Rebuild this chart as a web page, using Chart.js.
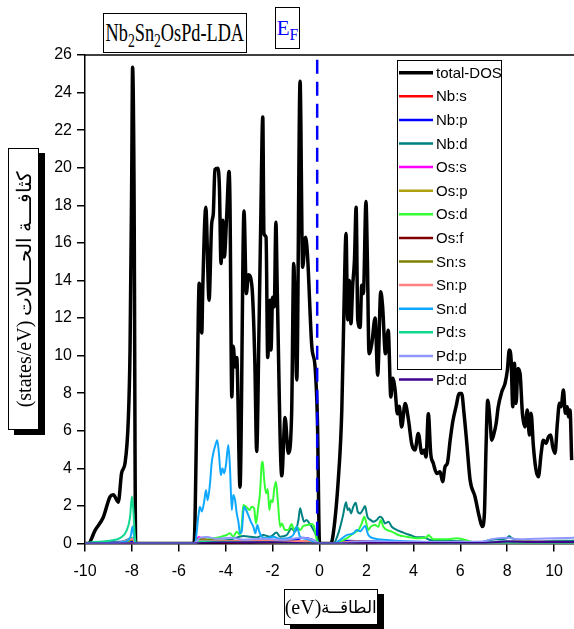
<!DOCTYPE html>
<html>
<head>
<meta charset="utf-8">
<script src="https://cdn.jsdelivr.net/npm/chart.js@4.4.0/dist/chart.umd.min.js"></script>
<style>
  body { margin: 0; background: #fff; }
  #wrap { position: relative; width: 574px; height: 629px; overflow: hidden; }
  #dos { position: absolute; left: 0; top: 0; }
  .box {
    position: absolute; box-sizing: border-box; border: 1px solid #000; background: #fff;
    font-family: "Liberation Serif", "Times New Roman", serif; color: #000;
    white-space: nowrap; display: flex; align-items: center; justify-content: center;
  }
  .box sub { font-size: 75%; vertical-align: -0.3em; line-height: 0; }
  #title { left: 103px; top: 13px; width: 144px; height: 40px; font-size: 25px; }
  #title span { display: inline-block; transform: scaleX(0.73); }
  #ef { left: 275px; top: 7px; width: 25px; height: 42px; font-size: 21px; color: #0000ff; }
  #xtitle { left: 284px; top: 589px; width: 94px; height: 36px; font-size: 20px; box-shadow: 6px 5px 0 #000; }
  #xtitle .ar { font-size: 17px; }
  #ytitle {
    left: 8px; top: 148px; width: 282px; height: 31px; font-size: 20px;
    transform-origin: 0 0; transform: translate(0, 282px) rotate(-90deg);
    box-shadow: -5px 6px 0 #000;
  }
</style>
</head>
<body>
<div id="wrap">
  <canvas id="dos" width="574" height="629"></canvas>
  <div class="box" id="title"><span>Nb<sub>2</sub>Sn<sub>2</sub>OsPd-LDA</span></div>
  <div class="box" id="ef"><span>E<sub>F</sub></span></div>
  <div class="box" id="xtitle" dir="ltr"><span>(eV)</span><span class="ar" dir="rtl">الطاقــة</span></div>
  <div class="box" id="ytitle" dir="ltr">(states/eV) كثافـــة الحـــالات</div>
</div>
<script>
// energy ticks (eV) and DOS ticks (states/eV)
const xTicks = [-10, -8, -6, -4, -2, 0, 2, 4, 6, 8, 10];
const yTicks = [0, 2, 4, 6, 8, 10, 12, 14, 16, 18, 20, 22, 24, 26];
const fermiLevel = -0.1;

// [energy, DOS] pairs
const totalDos = [[-10,0],[-9.86,0],[-9.57,0.7],[-9.22,1.4],[-8.93,2.5],[-8.79,2.6],[-8.58,2.2],[-8.44,3.75],[-8.29,4.3],[-8.15,6.7],[-8.08,10.3],[-8.01,19.2],[-7.97,25.35],[-7.91,19.2],[-7.84,0],
  [-5.35,0],[-5.22,8],[-5.13,13.85],[-5.02,11.2],[-4.98,13.5],[-4.85,17.9],[-4.71,12.95],[-4.6,17.0],[-4.53,17.55],[-4.46,19.9],[-4.34,19.97],[-4.27,19.0],[-4.2,14.9],[-4.13,17.2],[-4.06,15.25],[-3.96,17.4],[-3.86,19.8],[-3.82,18.3],[-3.74,7.8],[-3.68,10.5],[-3.6,9.4],[-3.53,9.9],[-3.39,3.0],[-3.22,17.7],[-3.12,13.3],[-3.03,14.3],[-2.88,13.65],[-2.76,9.76],[-2.68,4.9],[-2.58,11.5],[-2.51,16.85],[-2.42,22.7],[-2.37,16.5],[-2.28,16.3],[-2.21,9.9],[-2.11,12.95],[-2.07,10.3],[-2.0,13.1],[-1.93,12.6],[-1.86,17.1],[-1.8,13.3],[-1.61,3.6],[-1.47,6.7],[-1.33,4.8],[-1.19,6.9],[-1.1,14.9],[-0.97,8.7],[-0.83,24.6],[-0.72,14.7],[-0.6,16.3],[-0.52,15.5],[-0.33,10.5],[-0.19,9.4],[-0.09,6.6],[0,0],
  [0.48,0],[0.56,0.3],[0.8,3.4],[0.95,7.1],[1.04,12.4],[1.13,16.5],[1.2,11.9],[1.27,14.0],[1.34,11.7],[1.41,13.65],[1.49,15.1],[1.56,17.9],[1.63,11.9],[1.73,11.5],[1.8,13.75],[1.87,13.3],[1.98,18.2],[2.04,15.1],[2.11,10.1],[2.23,10.65],[2.37,12.0],[2.48,8.96],[2.61,13.4],[2.69,12.6],[2.81,10.1],[2.93,11.35],[3.04,7.8],[3.12,8.8],[3.22,8.2],[3.32,6.9],[3.4,7.3],[3.5,6.2],[3.65,7.45],[3.79,6.6],[3.93,5.3],[4.07,4.97],[4.21,5.86],[4.36,4.8],[4.46,4.97],[4.54,4.6],[4.64,6.9],[4.74,4.8],[4.85,4.27],[5.0,3.73],[5.14,3.82],[5.25,3.29],[5.35,4.08],[5.45,4.27],[5.57,5.5],[5.68,6.48],[5.82,7.28],[5.96,7.99],[6.06,7.99],[6.16,6.93],[6.28,5.33],[6.42,3.38],[6.63,2.49],[6.81,1.43],[6.94,0.9],[7.03,1.6],[7.1,5.15],[7.17,7.63],[7.27,6.57],[7.34,5.5],[7.44,5.86],[7.53,6.39],[7.62,7.28],[7.77,8.07],[7.91,8.52],[8.01,9.23],[8.09,10.3],[8.17,9.76],[8.24,7.28],[8.31,9.59],[8.38,7.46],[8.46,9.32],[8.55,9.05],[8.65,6.93],[8.76,6.21],[8.86,7.1],[8.95,5.77],[9.02,6.93],[9.12,5.15],[9.23,3.91],[9.33,3.55],[9.45,4.8],[9.54,5.5],[9.66,5.33],[9.76,5.68],[9.86,5.77],[9.94,5.15],[10.04,4.8],[10.14,6.39],[10.23,7.46],[10.3,7.28],[10.4,8.17],[10.48,6.93],[10.57,7.28],[10.61,6.74],[10.68,7.1],[10.75,4.44]];

const nbS = [[-10,0],[-8.2,0.03],[-7.95,0.15],[-7.85,0],[-5.35,0],[-5.1,0.1],[-4.5,0.08],[-3.5,0.05],[-2.5,0.1],[-1.5,0.06],[-0.5,0.08],[0,0],[0.6,0],[1.5,0.06],[3,0.03],[7,0.02],[10.85,0.02]];
const nbP = [[-10,0],[-7.95,0.1],[-7.85,0],[-5.35,0],[-5.0,0.15],[-4.0,0.12],[-3.0,0.1],[-2.0,0.12],[-1.0,0.2],[-0.7,0.3],[-0.3,0.2],[0,0],[0.6,0],[1.2,0.15],[2,0.12],[3,0.08],[5,0.04],[7,0.05],[8,0.1],[10.85,0.08]];
const nbD = [[-10,0],[-8.5,0.05],[-7.95,0.3],[-7.85,0],[-5.35,0],[-5.24,0.05],[-3.82,0.2],[-3.25,0.4],[-2.96,0.36],[-2.68,0.32],[-2.4,0.45],[-2.11,0.36],[-1.83,0.58],[-1.68,0.36],[-1.4,0.45],[-1.19,0.8],[-1.04,0.63],[-0.9,1.25],[-0.83,1.87],[-0.75,1.52],[-0.66,1.16],[-0.55,1.25],[-0.43,1.07],[-0.29,0.8],[-0.15,0.45],[0,0],
  [0.59,0],[0.8,0.54],[0.99,1.43],[1.13,2.19],[1.2,1.78],[1.27,1.87],[1.34,1.6],[1.44,1.96],[1.54,2.17],[1.63,1.69],[1.73,1.6],[1.84,1.78],[1.94,1.99],[2.04,1.43],[2.18,1.25],[2.3,1.16],[2.44,1.25],[2.58,1.43],[2.68,1.34],[2.79,1.07],[2.94,1.16],[3.08,0.89],[3.29,0.72],[3.57,0.58],[3.86,0.45],[4.14,0.33],[4.43,0.33],[4.71,0.19],[5.42,0.15],[6.28,0.1],[6.84,0.05],[7.13,0.15],[7.55,0.22],[7.98,0.28],[8.09,0.4],[8.19,0.28],[8.55,0.19],[9.26,0.1],[9.97,0.15],[10.85,0.15]];
const osS = [[-10,0],[-7.85,0],[-5.35,0],[-5.15,0.35],[-5.0,0.25],[-4.6,0.15],[-4.0,0.1],[-3.0,0.06],[-2.0,0.05],[-1.0,0.04],[0,0],[10.85,0]];
const osP = [[-10,0],[-5.35,0],[-5.0,0.2],[-4.5,0.15],[-3.5,0.12],[-2.5,0.15],[-1.5,0.1],[-0.5,0.12],[0,0],[0.6,0],[1.5,0.1],[3,0.05],[10.85,0.02]];
const osD = [[-10,0],[-8.2,0.05],[-7.95,0.3],[-7.85,0],[-5.35,0],[-5.24,0.1],[-4.67,0.24],[-4.24,0.35],[-3.96,0.45],[-3.82,0.54],[-3.68,0.36],[-3.53,0.63],[-3.39,0.45],[-3.32,0.89],[-3.25,2.05],[-3.13,1.96],[-2.99,1.78],[-2.89,1.96],[-2.79,1.87],[-2.71,1.07],[-2.61,1.96],[-2.54,2.67],[-2.46,4.27],[-2.42,4.35],[-2.37,3.55],[-2.28,2.67],[-2.21,2.9],[-2.14,1.78],[-2.07,2.3],[-2.0,2.2],[-1.93,2.93],[-1.86,3.29],[-1.78,2.3],[-1.68,0.89],[-1.61,1.07],[-1.47,0.72],[-1.33,0.72],[-1.19,1.04],[-1.09,0.72],[-0.97,0.89],[-0.83,0.72],[-0.69,0.93],[-0.52,0.98],[-0.33,1.04],[-0.23,0.89],[-0.12,0.19],[0,0],
  [0.66,0],[1.16,0.28],[1.44,0.54],[1.66,0.72],[1.8,1.07],[1.91,1.43],[1.98,1.16],[2.08,0.72],[2.18,0.89],[2.37,0.98],[2.51,0.89],[2.61,1.25],[2.72,0.89],[2.87,0.72],[3.08,0.63],[3.36,0.45],[3.72,0.36],[4.14,0.28],[4.57,0.33],[4.64,0.45],[4.85,0.22],[5.42,0.22],[5.85,0.28],[6.13,0.22],[6.7,0.04],[7,0.05],[8,0.1],[10.85,0.05]];
const osF = [[-10,0],[-5.35,0],[-5.0,0.05],[-2,0.05],[0,0],[7,0.02],[8,0.08],[9,0.06],[10.85,0.05]];
const snS = [[-10,0],[-8.5,0.05],[-7.95,0.2],[-7.85,0],[-5.35,0],[-5.2,0.25],[-4.8,0.2],[-4.2,0.15],[-3.5,0.1],[-2.5,0.05],[0,0],[0.6,0],[1.5,0.05],[10.85,0.02]];
const snP = [[-10,0],[-8.5,0.05],[-7.95,0.25],[-7.85,0],[-5.35,0],[-5.0,0.15],[-4.0,0.12],[-3.0,0.15],[-2.3,0.2],[-1.5,0.1],[-0.5,0.15],[0,0],[0.6,0],[1.5,0.1],[3,0.06],[7,0.04],[8.5,0.1],[10.85,0.08]];
const snD = [[-10,0],[-9,0.03],[-8.3,0.1],[-8.05,0.4],[-7.97,0.9],[-7.9,0.3],[-7.84,0],[-5.31,0],[-5.17,1.43],[-5.1,1.96],[-5.02,1.7],[-4.91,2.3],[-4.84,2.85],[-4.77,2.3],[-4.67,3.2],[-4.6,4.27],[-4.53,4.8],[-4.46,5.15],[-4.36,5.5],[-4.29,4.8],[-4.21,3.64],[-4.14,4.0],[-4.07,3.73],[-3.99,4.18],[-3.89,5.24],[-3.82,4.08],[-3.74,1.78],[-3.68,2.58],[-3.6,2.3],[-3.53,1.6],[-3.46,1.16],[-3.39,0.54],[-3.32,0.63],[-3.22,1.96],[-3.13,1.78],[-3.04,1.52],[-2.93,1.16],[-2.82,0.89],[-2.74,0.54],[-2.65,0.98],[-2.57,0.63],[-2.46,0.36],[-2.25,0.28],[-1.97,0.36],[-1.68,0.24],[-1.4,0.28],[-1.12,0.45],[-0.97,0.89],[-0.83,0.36],[-0.55,0.24],[-0.12,0.04],[0,0],
  [0.59,0],[1.16,0.45],[1.44,0.54],[1.59,0.72],[1.73,0.65],[1.94,0.93],[2.08,0.45],[2.3,0.28],[2.87,0.19],[4.0,0.1],[6,0.05],[10.85,0.05]];
const pdS = [[-10,0],[-9.8,0.05],[-8.93,0.15],[-8.5,0.3],[-8.22,0.7],[-8.08,1.4],[-8.0,2.5],[-7.94,1.8],[-7.86,0.2],[-7.8,0],[-5.35,0],[-5.0,0.1],[-4,0.08],[-2,0.06],[0,0],[0.6,0],[2,0.05],[5,0.03],[10.85,0.02]];
const pdP = [[-10,0],[-7.85,0],[-5.35,0],[-5.1,0.3],[-4.8,0.35],[-4.4,0.25],[-3.8,0.3],[-3.2,0.2],[-2.5,0.25],[-1.5,0.2],[-0.8,0.3],[-0.3,0.2],[0,0],[0.6,0],[2,0.1],[5,0.08],[7.0,0.1],[7.3,0.22],[8,0.3],[8.5,0.22],[9.2,0.25],[10,0.28],[10.85,0.3]];
const pdD = [[-10,0],[-5.35,0],[-4.5,0.05],[-2,0.06],[0,0],[0.6,0],[2,0.03],[7,0.03],[8,0.1],[9,0.08],[10.85,0.08]];

const seriesNames = ['total-DOS', 'Nb:s', 'Nb:p', 'Nb:d', 'Os:s', 'Os:p', 'Os:d', 'Os:f', 'Sn:s', 'Sn:p', 'Sn:d', 'Pd:s', 'Pd:p', 'Pd:d'];
const seriesColors = ['#000000', '#ff0000', '#0000ff', '#008080', '#ff00ff', '#b0a010', '#33ff33', '#800000', '#808000', '#ff8080', '#10a8ff', '#10d890', '#9098ff', '#400090'];
const seriesData = [totalDos, nbS, nbP, nbD, osS, osP, osD, osF, snS, snP, snD, pdS, pdP, pdD];

const datasets = seriesData.map((d, i) => ({
    label: seriesNames[i],
    data: d,
    borderColor: seriesColors[i],
    borderWidth: i === 0 ? 3.5 : 2,
    cubicInterpolationMode: 'monotone',
    // later curves sit on top, so Pd:d ends up on the baseline
    order: seriesData.length - i
}));

datasets.push({
    label: 'EF',
    data: [[fermiLevel, 25.75], [fermiLevel, 0]],
    borderColor: '#0000ff',
    borderWidth: 2.5,
    borderDash: [14, 8],
    order: 0
});

// legend inside the plot + top frame line
const legendBox = {
    id: 'legendBox',
    afterDraw(chart) {
        const ctx = chart.ctx;
        const a = chart.chartArea;
        ctx.save();
        ctx.strokeStyle = '#000';
        ctx.lineWidth = 1.5;
        ctx.beginPath();
        ctx.moveTo(a.left, a.top);
        ctx.lineTo(a.right, a.top);
        ctx.stroke();

        const bx = 397, by = 60, bw = 104, bh = 309;
        ctx.fillStyle = '#fff';
        ctx.fillRect(bx, by, bw, bh);
        ctx.lineWidth = 1;
        ctx.strokeRect(bx + 0.5, by + 0.5, bw, bh);

        ctx.font = '15px "Liberation Sans", Arial, sans-serif';
        ctx.textBaseline = 'middle';
        ctx.textAlign = 'left';
        seriesNames.forEach((name, i) => {
            const y = 72.7 + i * 23.6;
            ctx.strokeStyle = seriesColors[i];
            ctx.lineWidth = i === 0 ? 3.5 : 2.5;
            ctx.beginPath();
            ctx.moveTo(399, y);
            ctx.lineTo(433, y);
            ctx.stroke();
            ctx.fillStyle = '#000';
            ctx.fillText(name, 436, y + 1);
        });
        ctx.restore();
    }
};

const tickFont = { family: '"Liberation Sans", Arial, sans-serif', size: 16 };

new Chart(document.getElementById('dos'), {
    type: 'line',
    data: { datasets: datasets },
    options: {
        responsive: false,
        animation: false,
        devicePixelRatio: 1,
        layout: { padding: { top: 55, right: 0, left: 0, bottom: 0 } },
        plugins: { legend: { display: false }, tooltip: { enabled: false } },
        elements: { point: { radius: 0 } },
        scales: {
            x: {
                type: 'linear',
                min: -10,
                max: 10.85,
                afterBuildTicks: s => { s.ticks = xTicks.map(v => ({ value: v })); },
                afterFit: s => { s.height = 85.5; },
                grid: { drawOnChartArea: false, tickLength: 8, color: '#000', lineWidth: 1.5 },
                border: { color: '#000', width: 1.5 },
                ticks: { color: '#000', font: tickFont, padding: 10, maxRotation: 0, autoSkip: false }
            },
            y: {
                type: 'linear',
                min: 0,
                max: 26,
                afterBuildTicks: s => { s.ticks = yTicks.map(v => ({ value: v })); },
                afterFit: s => { s.width = 85; },
                grid: { drawOnChartArea: false, tickLength: 8, color: '#000', lineWidth: 1.5 },
                border: { color: '#000', width: 1.5 },
                ticks: { color: '#000', font: tickFont, padding: 5, autoSkip: false }
            }
        }
    },
    plugins: [legendBox]
});
</script>
</body>
</html>
